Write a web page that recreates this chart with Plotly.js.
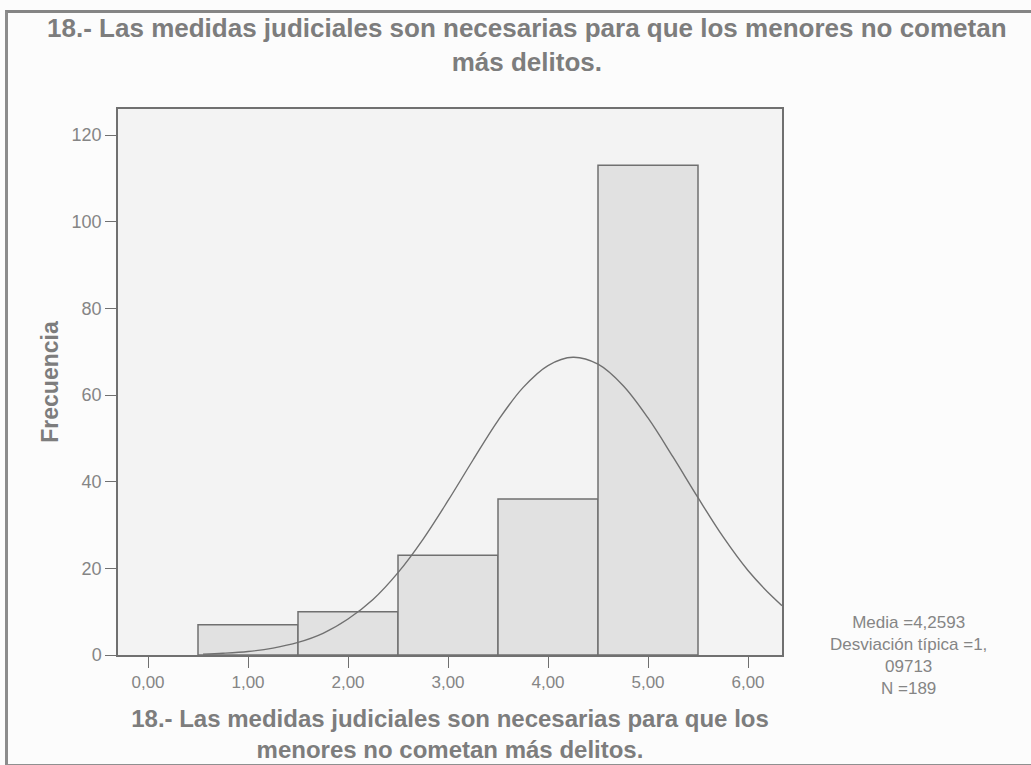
<!DOCTYPE html>
<html>
<head>
<meta charset="utf-8">
<script src="https://cdn.plot.ly/plotly-3.0.1.min.js"></script>
<style>
  body { margin: 0; background: #fcfcfc; }
  #myPlot { width: 1031px; height: 765px; }
  #frame {
    position: absolute; left: 5px; top: 10px; width: 1030px; height: 751px;
    border-top: 3px solid #858585; border-left: 3px solid #8c8c8c;
    border-bottom: 2px solid #909090; pointer-events: none;
  }
</style>
</head>
<body>
<div id="myPlot"></div>
<div id="frame"></div>
<script>
// histogram bins (centre of each bar) and frequencies
const binCentres = [1, 2, 3, 4, 5];
const frequencies = [7, 10, 23, 36, 113];

// fitted normal curve
const curveX = [0.55, 0.75, 1.0, 1.25, 1.5, 1.75, 2.0, 2.25, 2.5, 2.75, 3.0, 3.25, 3.5, 3.75,
  4.0, 4.25, 4.5, 4.75, 5.0, 5.25, 5.5, 5.75, 6.0, 6.25, 6.34];
const curveY = [0.2, 0.4, 0.8, 1.6, 2.9, 5.0, 8.3, 12.8, 19.0, 26.7, 35.6, 45.0, 54.1, 61.7,
  66.8, 68.7, 67.1, 62.2, 54.7, 45.7, 36.3, 27.3, 19.5, 13.3, 11.4];

const xTicks = [0, 1, 2, 3, 4, 5, 6];
const yTicks = [0, 20, 40, 60, 80, 100, 120];

const statsText = ["Media =4,2593", "Desviación típica =1,", "09713", "N =189"];

const gray = "#707070";
const textGray = "#858585";

const data = [
  {
    x: binCentres,
    y: frequencies,
    type: "bar",
    width: 1,
    marker: {color: "#e1e1e1", line: {color: gray, width: 1.5}},
    hoverinfo: "x+y"
  },
  {
    x: curveX,
    y: curveY,
    mode: "lines",
    line: {color: gray, width: 1.4, shape: "spline"},
    hoverinfo: "skip"
  }
];

const layout = {
  width: 1031,
  height: 765,
  showlegend: false,
  separators: ",.",
  paper_bgcolor: "#fcfcfc",
  plot_bgcolor: "#f3f3f3",
  font: {family: "Liberation Sans, Arial, sans-serif", color: textGray},
  margin: {l: 118, r: 249, t: 109, b: 110},
  title: {
    text: "<b>18.- Las medidas judiciales son necesarias para que los menores no cometan<br>más delitos.</b>",
    font: {size: 26, color: "#7d7d7d"},
    x: 0.511, xref: "container", xanchor: "center",
    y: 0.952, yref: "container", yanchor: "middle"
  },
  xaxis: {
    range: [-0.3, 6.34],
    tickvals: xTicks,
    tickformat: ".2f",
    ticks: "outside", ticklen: 11, tickcolor: gray, tickwidth: 1.3,
    tickfont: {size: 17, color: textGray},
    showline: true, linecolor: gray, linewidth: 1.5, mirror: true,
    showgrid: false, zeroline: false,
    title: {
      text: "<b>18.- Las medidas judiciales son necesarias para que los<br>menores no cometan más delitos.</b>",
      font: {size: 24, color: "#7d7d7d"},
      standoff: 19
    }
  },
  yaxis: {
    range: [0, 126],
    tickvals: yTicks,
    ticks: "outside", ticklen: 11, tickcolor: gray, tickwidth: 1.3,
    tickfont: {size: 18, color: textGray},
    showline: true, linecolor: gray, linewidth: 1.5, mirror: true,
    showgrid: false, zeroline: false,
    title: {text: "<b>Frecuencia</b>", font: {size: 23, color: "#7d7d7d"}, standoff: 7}
  },
  annotations: [{
    text: statsText.join("<br>"),
    xref: "paper", yref: "paper",
    x: 1.19, y: 0.0,
    xanchor: "center", yanchor: "middle",
    showarrow: false,
    font: {size: 17, color: textGray}
  }]
};

Plotly.newPlot("myPlot", data, layout, {displayModeBar: false});
</script>
</body>
</html>
